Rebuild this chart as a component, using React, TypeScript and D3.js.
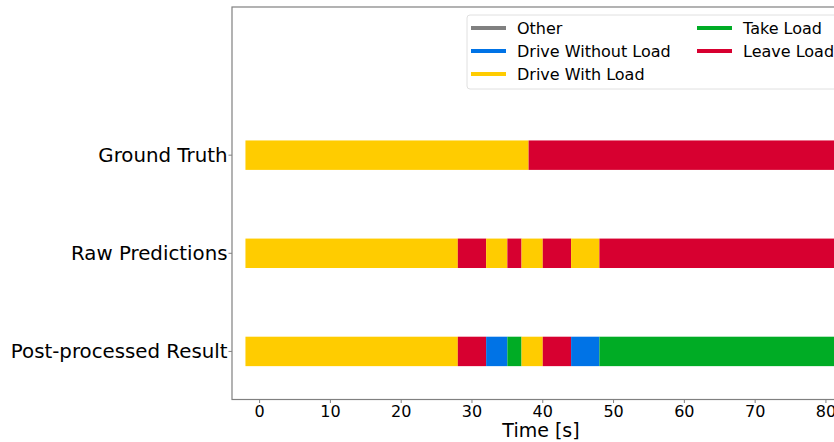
import React, { useEffect, useRef } from "react";
import * as d3 from "d3";

// rows of the timeline, top to bottom
const rows = ["Ground Truth", "Raw Predictions", "Post-processed Result"];
const rowPos = [2, 1, 0];

const activities = ["Other", "Drive Without Load", "Drive With Load", "Take Load", "Leave Load"];
const colors = ["#808080", "#0073e6", "#ffcc00", "#00ac25", "#d70030"];

// segments: [start, end, activity index]
const groundTruth = [
  [-2, 38, 2],
  [38, 81.5, 4],
];
const rawPredictions = [
  [-2, 28, 2],
  [28, 32, 4],
  [32, 35, 2],
  [35, 37, 4],
  [37, 40, 2],
  [40, 44, 4],
  [44, 48, 2],
  [48, 81.5, 4],
];
const postProcessed = [
  [-2, 28, 2],
  [28, 32, 4],
  [32, 35, 1],
  [35, 37, 3],
  [37, 40, 2],
  [40, 44, 4],
  [44, 48, 1],
  [48, 81.5, 3],
];
const segments = [groundTruth, rawPredictions, postProcessed];

const xTicks = [0, 10, 20, 30, 40, 50, 60, 70, 80];

const W = 834;
const H = 442;
const font = "DejaVu Sans, sans-serif";

const App = () => {
  const svgRef = useRef(null);

  useEffect(() => {
    const svg = d3.select(svgRef.current);
    svg.selectAll("*").remove();

    const left = 232;
    const right = 850;
    const top = 7;
    const bottom = 399.5;

    const x = d3.scaleLinear().domain([-3.9, 83.4]).range([left, right]);
    const y = d3.scaleLinear().domain([-0.49, 3.51]).range([bottom, top]);
    const barH = y(0) - y(0.3);

    // bars
    segments.forEach((segs, i) => {
      svg
        .append("g")
        .selectAll("rect")
        .data(segs)
        .join("rect")
        .attr("x", (d) => x(d[0]))
        .attr("width", (d) => x(d[1]) - x(d[0]))
        .attr("y", y(rowPos[i]) - barH / 2)
        .attr("height", barH)
        .attr("fill", (d) => colors[d[2]]);
    });

    // spines
    const sp = svg.append("g").attr("stroke", "#808080").attr("stroke-width", 1.2).attr("fill", "none");
    sp.append("rect")
      .attr("x", left)
      .attr("y", top)
      .attr("width", right - left)
      .attr("height", bottom - top);

    // x axis
    const xa = svg.append("g");
    xTicks.forEach((t) => {
      xa.append("line")
        .attr("x1", x(t))
        .attr("x2", x(t))
        .attr("y1", bottom)
        .attr("y2", bottom + 3.5)
        .attr("stroke", "#808080");
      xa.append("text")
        .attr("x", x(t))
        .attr("y", bottom + 17)
        .attr("text-anchor", "middle")
        .attr("font-family", font)
        .attr("font-size", 16)
        .attr("fill", "#000")
        .text(t);
    });
    svg
      .append("text")
      .attr("x", (left + right) / 2)
      .attr("y", 437)
      .attr("text-anchor", "middle")
      .attr("font-family", font)
      .attr("font-size", 19)
      .text("Time [s]");

    // y axis
    rows.forEach((r, i) => {
      svg
        .append("line")
        .attr("x1", left - 3.5)
        .attr("x2", left)
        .attr("y1", y(rowPos[i]))
        .attr("y2", y(rowPos[i]))
        .attr("stroke", "#808080");
      svg
        .append("text")
        .attr("x", left - 4.5)
        .attr("y", y(rowPos[i]))
        .attr("dy", "0.35em")
        .attr("text-anchor", "end")
        .attr("font-family", font)
        .attr("font-size", 19.8)
        .text(r);
    });

    // legend
    const lg = svg.append("g");
    lg.append("rect")
      .attr("x", 467)
      .attr("y", 15)
      .attr("width", 380)
      .attr("height", 74)
      .attr("rx", 3)
      .attr("fill", "white")
      .attr("fill-opacity", 0.8)
      .attr("stroke", "#e0e0e0");
    activities.forEach((a, i) => {
      const col = i < 3 ? 0 : 1;
      const row = i < 3 ? i : i - 3;
      const lx = col === 0 ? 471 : 697;
      const ly = 28 + row * 23;
      lg.append("line")
        .attr("x1", lx)
        .attr("x2", lx + 35)
        .attr("y1", ly)
        .attr("y2", ly)
        .attr("stroke", colors[i])
        .attr("stroke-width", 4);
      lg.append("text")
        .attr("x", lx + 46)
        .attr("y", ly)
        .attr("dy", "0.36em")
        .attr("font-family", font)
        .attr("font-size", 16)
        .text(a);
    });
  }, []);

  return (
    <svg
      ref={svgRef}
      width={W}
      height={H}
      style={{ position: "absolute", left: 0, top: 0, background: "white" }}
    />
  );
};

export default App;
